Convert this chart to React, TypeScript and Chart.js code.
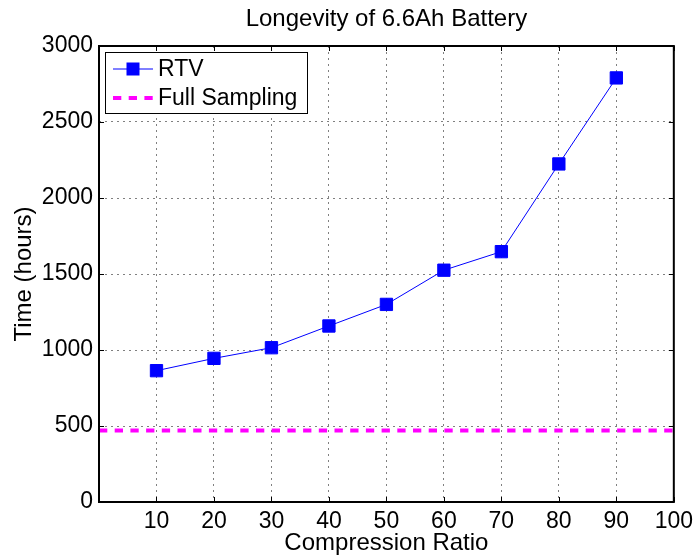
import React, { useEffect, useRef } from 'react';
import { Chart, registerables } from 'chart.js';

Chart.register(...registerables);

const chartTitle = 'Longevity of 6.6Ah Battery';
const xAxisTitle = 'Compression Ratio';
const yAxisTitle = 'Time (hours)';
const seriesLabels = ['RTV', 'Full Sampling'];

const compressionRatio = [10, 20, 30, 40, 50, 60, 70, 80, 90];
const rtvHours = [864, 945, 1015, 1158, 1300, 1525, 1647, 2224, 2790];
const fullSamplingX = [0, 100];
const fullSamplingHours = [470, 470];

const xTickValues = [10, 20, 30, 40, 50, 60, 70, 80, 90, 100];
const yTickValues = [0, 500, 1000, 1500, 2000, 2500, 3000];

const FONT = '"Liberation Sans", Arial, Helvetica, sans-serif';

const framePlugin = {
  id: 'matlabFrame',
  afterDatasetsDraw(chart: any) {
    const { ctx, chartArea, scales } = chart;
    const { left, right, top, bottom } = chartArea;
    const xs = scales.x;
    const ys = scales.y;
    ctx.save();
    ctx.strokeStyle = '#000';
    ctx.lineWidth = 1;
    const tl = 5;
    ctx.beginPath();
    xs.ticks.forEach((t: any) => {
      const px = Math.round(xs.getPixelForValue(t.value)) + 0.5;
      ctx.moveTo(px, bottom);
      ctx.lineTo(px, bottom - tl);
      ctx.moveTo(px, top);
      ctx.lineTo(px, top + tl);
    });
    ys.ticks.forEach((t: any) => {
      const py = Math.round(ys.getPixelForValue(t.value)) + 0.5;
      ctx.moveTo(left, py);
      ctx.lineTo(left + tl, py);
      ctx.moveTo(right, py);
      ctx.lineTo(right - tl, py);
    });
    ctx.stroke();
    ctx.lineWidth = 2;
    ctx.strokeRect(left, top, right - left, bottom - top);

    // title, centred over the axes like MATLAB
    ctx.fillStyle = '#000';
    ctx.font = '24px ' + FONT;
    ctx.textAlign = 'center';
    ctx.textBaseline = 'alphabetic';
    ctx.fillText(chartTitle, (left + right) / 2, 26);

    // legend
    const lx = left + 6.5;
    const ly = top + 6.5;
    const lw = 202;
    const lh = 61;
    ctx.fillStyle = '#fff';
    ctx.fillRect(lx, ly, lw, lh);
    ctx.lineWidth = 1;
    ctx.strokeStyle = '#000';
    ctx.strokeRect(lx, ly, lw, lh);
    const ds = chart.data.datasets;
    const rows = [top + 23, top + 52];
    ctx.font = '23px ' + FONT;
    ctx.textBaseline = 'middle';
    ctx.textAlign = 'left';
    ds.forEach((d: any, i: number) => {
      const ry = rows[i];
      ctx.save();
      ctx.strokeStyle = d.borderColor;
      ctx.lineWidth = d.borderWidth;
      ctx.setLineDash(d.borderDash || []);
      ctx.beginPath();
      ctx.moveTo(left + 14, ry);
      ctx.lineTo(left + 54, ry);
      ctx.stroke();
      ctx.restore();
      if (d.pointRadius > 0) {
        ctx.fillStyle = d.pointBackgroundColor;
        const s = 13;
        ctx.fillRect(left + 34 - s / 2, ry - s / 2, s, s);
      }
      ctx.fillStyle = '#000';
      ctx.fillText(d.label, left + 59, ry + 1);
    });
    ctx.restore();
  },
};

export default function App() {
  const ref = useRef<HTMLCanvasElement>(null);
  useEffect(() => {
    document.body.style.margin = '0';
    const canvas = ref.current;
    if (!canvas) return;
    Chart.defaults.font.family = FONT;
    Chart.defaults.color = '#000';
    const chart = new Chart(canvas, {
      type: 'line',
      data: {
        datasets: [
          {
            label: seriesLabels[0],
            data: compressionRatio.map((x, i) => ({ x, y: rtvHours[i] })),
            borderColor: '#0000ff',
            backgroundColor: '#0000ff',
            pointBackgroundColor: '#0000ff',
            pointBorderColor: '#0000ff',
            borderWidth: 1,
            pointStyle: 'rect',
            pointRadius: 8.7,
            pointBorderWidth: 1,
            tension: 0,
          },
          {
            label: seriesLabels[1],
            data: fullSamplingX.map((x, i) => ({ x, y: fullSamplingHours[i] })),
            borderColor: '#ff00ff',
            backgroundColor: '#ff00ff',
            borderWidth: 4,
            borderDash: [8.3, 7.4],
            pointRadius: 0,
            tension: 0,
          },
        ],
      },
      plugins: [framePlugin],
      options: {
        animation: false,
        responsive: false,
        events: [],
        layout: { padding: { top: 46, right: 20, left: 0, bottom: 0 } },
        plugins: {
          legend: { display: false },
          tooltip: { enabled: false },
          title: { display: false },
        },
        scales: {
          x: {
            type: 'linear',
            min: 0,
            max: 100,
            afterBuildTicks: (s: any) => {
              s.ticks = xTickValues.map((v) => ({ value: v }));
            },
            afterFit: (s: any) => {
              s.height = 57;
            },
            ticks: {
              font: { size: 23, family: FONT },
              color: '#000',
              padding: 6,
              maxRotation: 0,
              autoSkip: false,
              callback: (v: any) => String(v),
            },
            grid: {
              color: '#808080',
              lineWidth: 1,
              drawTicks: false,
            },
            border: { display: false, dash: [2, 4] },
            title: {
              display: true,
              text: xAxisTitle,
              color: '#000',
              font: { size: 24, family: FONT },
              padding: { top: 0, bottom: 1.4 },
            },
          },
          y: {
            type: 'linear',
            min: 0,
            max: 3000,
            afterBuildTicks: (s: any) => {
              s.ticks = yTickValues.map((v) => ({ value: v }));
            },
            afterFit: (s: any) => {
              s.width = 99;
            },
            ticks: {
              font: { size: 23, family: FONT },
              color: '#000',
              padding: 6,
              autoSkip: false,
              callback: (v: any) => String(v),
            },
            grid: {
              color: '#808080',
              lineWidth: 1,
              drawTicks: false,
            },
            border: { display: false, dash: [2, 4] },
            title: {
              display: true,
              text: yAxisTitle,
              color: '#000',
              font: { size: 24, family: FONT },
              padding: { top: 10.3, bottom: 0 },
            },
          },
        },
      },
    } as any);
    return () => chart.destroy();
  }, []);
  return (
    <div style={{ width: 699, height: 559 }}>
      <canvas ref={ref} width={699} height={559} style={{ display: 'block' }} />
    </div>
  );
}
